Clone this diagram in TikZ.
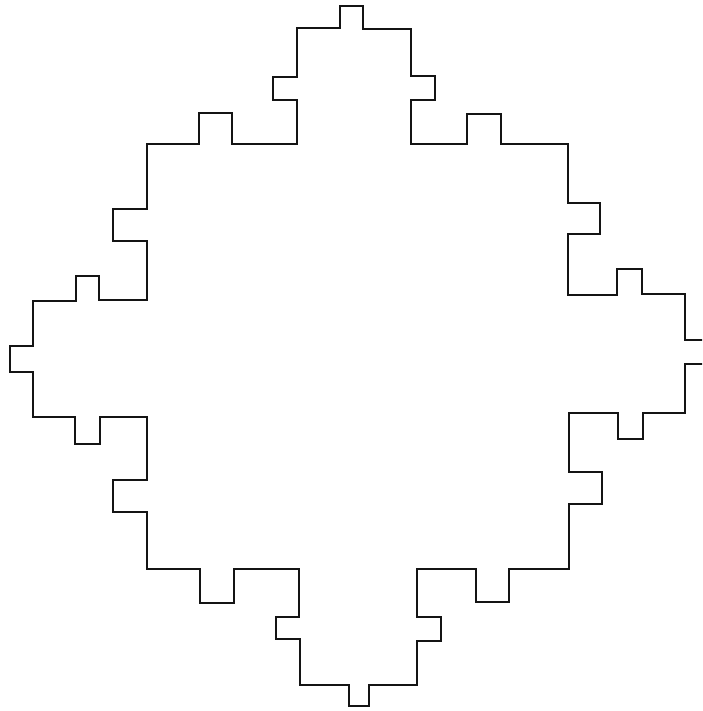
\documentclass[tikz,border=0pt]{standalone}
\usepackage{tikz}
\definecolor{InkBlack}{HTML}{141414}

\begin{document}
\begin{tikzpicture}[x=1pt, y=-1pt]
    \useasboundingbox (0,0) rectangle (702,711);
    \clip (0,0) rectangle (702,711);
    % outline, clockwise from the top notch
    \draw[InkBlack, line width=1.7pt, line join=miter]
      (340,6) -- (363,6) -- (363,29) -- (411,29) -- (411,76) -- (435,76) -- (435,100) -- (411,100)
      -- (411,144) -- (467,144) -- (467,114) -- (501,114) -- (501,144) -- (568,144)
      -- (568,203) -- (600,203) -- (600,234) -- (568,234) -- (568,295) -- (617,295)
      -- (617,269) -- (642,269) -- (642,294) -- (685,294) -- (685,340) -- (709,340)
      -- (709,364) -- (685,364) -- (685,413) -- (643,413) -- (643,439) -- (618,439)
      -- (618,413) -- (569,413) -- (569,472) -- (602,472) -- (602,504) -- (569,504)
      -- (569,569) -- (509,569) -- (509,602) -- (476,602) -- (476,569) -- (417,569)
      -- (417,617) -- (441,617) -- (441,641) -- (417,641) -- (417,685) -- (369,685)
      -- (369,706) -- (349,706) -- (349,685) -- (300,685) -- (300,639) -- (276,639)
      -- (276,617) -- (299,617) -- (299,569) -- (234,569) -- (234,603) -- (200,603)
      -- (200,569) -- (147,569) -- (147,512) -- (113,512) -- (113,480) -- (147,480)
      -- (147,417) -- (100,417) -- (100,444) -- (75,444) -- (75,417) -- (33,417)
      -- (33,372) -- (10,372) -- (10,346) -- (33,346) -- (33,301) -- (76,301)
      -- (76,276) -- (99,276) -- (99,300) -- (147,300) -- (147,241) -- (113,241)
      -- (113,209) -- (147,209) -- (147,144) -- (199,144) -- (199,113) -- (232,113)
      -- (232,144) -- (297,144) -- (297,100) -- (273,100) -- (273,77) -- (297,77)
      -- (297,28) -- (340,28) -- cycle;
  \end{tikzpicture}
\end{document}
